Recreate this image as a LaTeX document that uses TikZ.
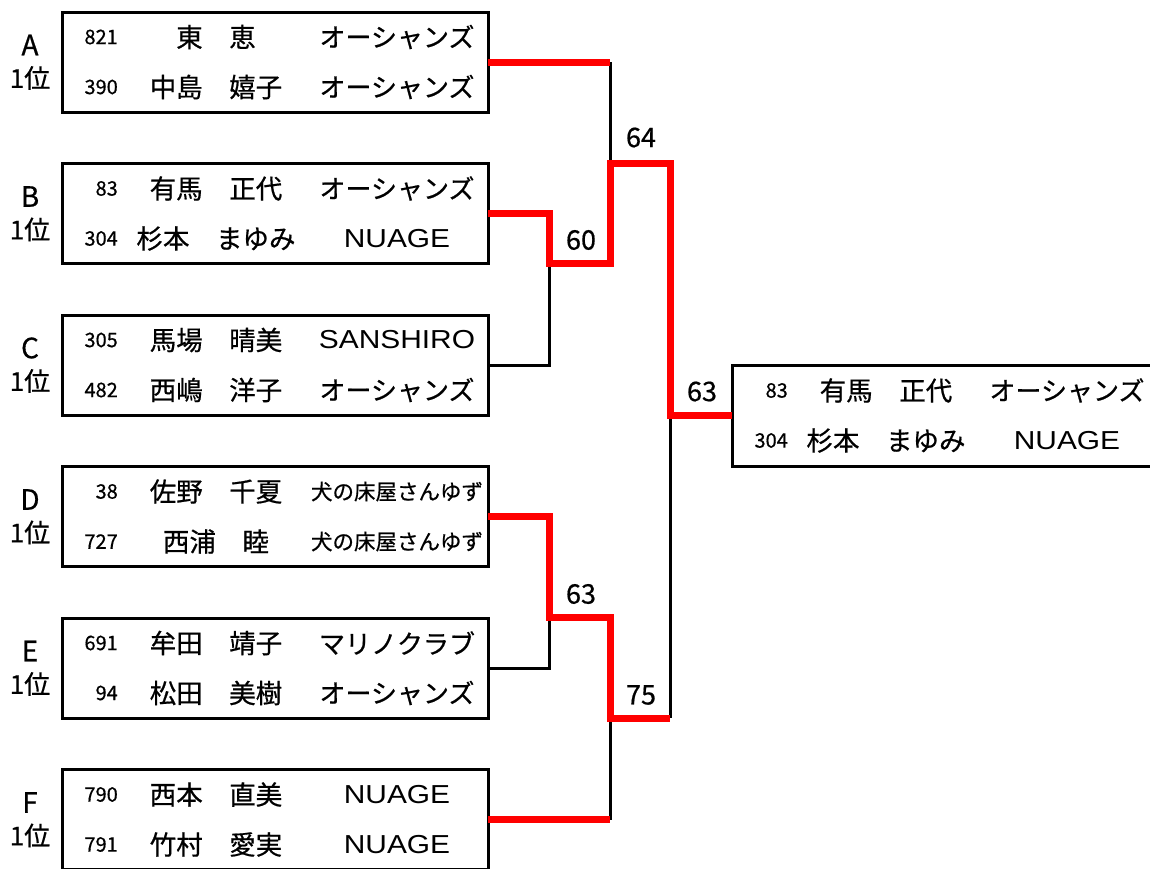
\documentclass[tikz,border=0pt]{standalone}
\usepackage{fontspec}
\setmainfont{Liberation Sans}
\newfontfamily\jp[FakeBold=0.6]{Noto Sans CJK JP}
\newfontfamily\latw[FakeStretch=1.15]{Liberation Sans}
\usetikzlibrary{calc}

\tikzset{
  teambox/.style={draw=black, line width=3pt, minimum width=426pt, minimum height=100pt, outer sep=0pt, inner sep=0pt},
  numtxt/.style={anchor=east, inner sep=0pt, font=\jp\fontsize{20}{20}\selectfont},
  nametxt/.style={anchor=center, inner sep=0pt, font=\jp\fontsize{26.5}{26.5}\selectfont},
  teamtxt/.style={anchor=center, inner sep=0pt, font=\jp\fontsize{26}{26}\selectfont},
  grouplbl/.style={anchor=center, inner sep=0pt, font=\jp\fontsize{28}{28}\selectfont},
  ranklbl/.style={anchor=center, inner sep=0pt, font=\jp\fontsize{26}{26}\selectfont},
  score/.style={anchor=center, inner sep=0pt, font=\jp\fontsize{27}{27}\selectfont},
  lose/.style={draw=black, line width=3pt},
  win/.style={draw=red, line width=7pt, line join=miter},
}

% #1 box name, #2..#7 texts
\newcommand{\rowtexts}[7]{%
  \node[numtxt]  (#1-n1) at ($(#1.west)+(56,-25)$) {#2};
  \node[nametxt] (#1-m1) at ($(#1.west)+(154,-25)$) {#3};
  \node[teamtxt] (#1-t1) at ($(#1.west)+(335,-25)$) {#4};
  \node[numtxt]  (#1-n2) at ($(#1.west)+(56,25)$) {#5};
  \node[nametxt] (#1-m2) at ($(#1.west)+(154,25)$) {#6};
  \node[teamtxt] (#1-t2) at ($(#1.west)+(335,25)$) {#7};
}
% #1 box name (= group letter), #2 centre y, #3..#8 texts
\newcommand{\groupbox}[8]{%
  \node[teambox] (#1) at (275,#2) {};
  \node[grouplbl] (#1-g) at ($(#1.west)+(-32,-17)$) {#1};
  \node[ranklbl] (#1-r) at ($(#1.west)+(-32,16)$) {1位};
  \rowtexts{#1}{#3}{#4}{#5}{#6}{#7}{#8}
}

\begin{document}
\begin{tikzpicture}[x=1pt, y=-1pt]
\useasboundingbox (0,0) rectangle (1150,868);
\clip (0,0) rectangle (1150,868);

\groupbox{A}{62}{821}{東　恵}{オーシャンズ}{390}{中島　嬉子}{オーシャンズ}
\groupbox{B}{213.5}{83}{有馬　正代}{オーシャンズ}{304}{杉本　まゆみ}{{\latw NUAGE}}
\groupbox{C}{365}{305}{馬場　晴美}{{\latw SANSHIRO}}{482}{西嶋　洋子}{オーシャンズ}
\groupbox{D}{516.5}{38}{佐野　千夏}{{\fontsize{21.5}{21.5}\selectfont 犬の床屋さんゆず}}{727}{西浦　睦}{{\fontsize{21.5}{21.5}\selectfont 犬の床屋さんゆず}}
\groupbox{E}{668}{691}{牟田　靖子}{マリノクラブ}{94}{松田　美樹}{オーシャンズ}
\groupbox{F}{819.5}{790}{西本　直美}{{\latw NUAGE}}{791}{竹村　愛実}{{\latw NUAGE}}

\node[teambox, minimum width=440pt, minimum height=101pt] (W) at (952,415.5) {};
\rowtexts{W}{83}{有馬　正代}{オーシャンズ}{304}{杉本　まゆみ}{{\latw NUAGE}}

% junction coordinates
\coordinate (a1) at (610,62);
\coordinate (ab) at (610,163);
\coordinate (ab2) at (670,163);
\coordinate (b1) at (549,213.5);
\coordinate (bc) at (549,263);
\coordinate (bc2) at (610,263);
\coordinate (c1) at (549,365);
\coordinate (fin) at (670,415.5);
\coordinate (d1) at (549,516.5);
\coordinate (de) at (549,617);
\coordinate (de2) at (610,617);
\coordinate (e1) at (549,668);
\coordinate (df) at (610,718);
\coordinate (df2) at (670,718);
\coordinate (f1) at (610,819.5);

% losing lines
\draw[lose] (a1) -- (ab);
\draw[lose] (C.east) -- (c1) -- (bc);
\draw[lose] (E.east) -- (e1) -- (de);
\draw[lose] (f1) -- (df);
\draw[lose] (fin) -- (df2);

% winning lines
\draw[win] (A.east) -- (a1);
\draw[win] (B.east) -- (b1) -- (bc) -- (bc2) -- (ab) -- (ab2) -- (fin) -- (W.west);
\draw[win] (D.east) -- (d1) -- (de) -- (de2) -- (df) -- (df2);
\draw[win] (F.east) -- (f1);

% scores
\node[score] (s64) at (641,137.5) {64};
\node[score] (s60) at (581,240) {60};
\node[score] (s63a) at (702,391.5) {63};
\node[score] (s63b) at (581,594) {63};
\node[score] (s75) at (641,695) {75};
\end{tikzpicture}
\end{document}
